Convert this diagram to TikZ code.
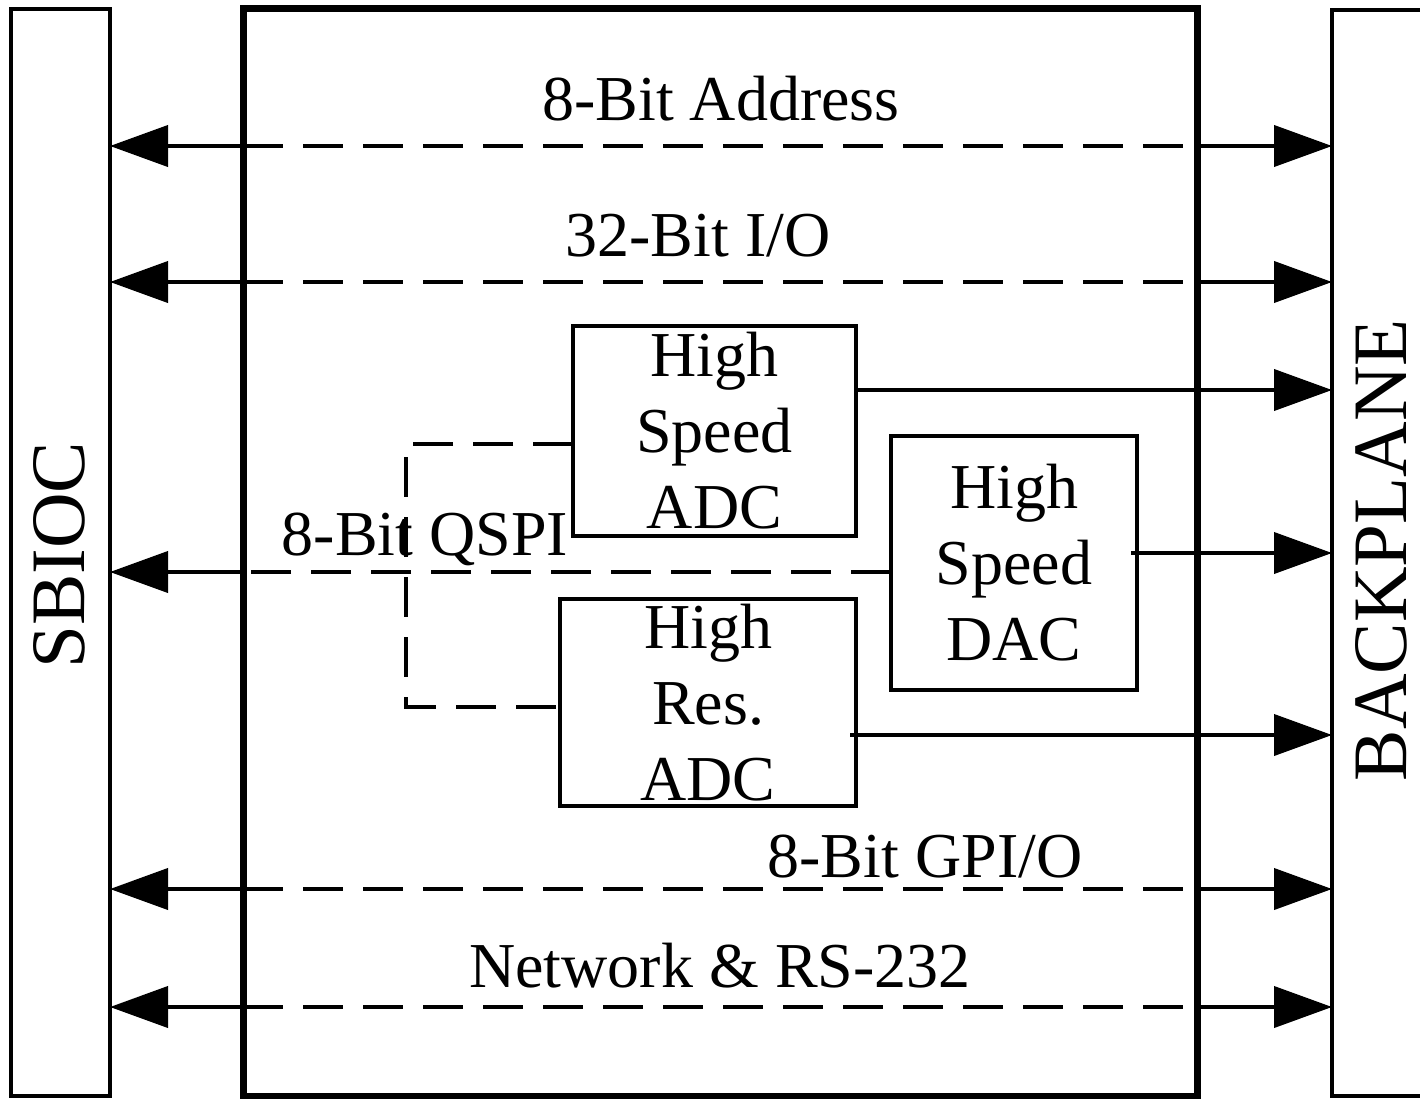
\documentclass[tikz,border=0pt]{standalone}
\usepackage{fontspec}
\setmainfont{Liberation Serif}
\usetikzlibrary{arrows.meta}
\begin{document}
\begin{tikzpicture}[x=1pt,y=-1pt,
  box/.style={draw,line width=4pt,inner sep=0pt,outer sep=0pt,align=center,
    font=\fontsize{64}{76}\selectfont},
  lbl/.style={inner sep=0pt,anchor=base,font=\fontsize{64}{76}\selectfont},
  side/.style={rotate=90,inner sep=0pt,font=\fontsize{77}{90}\selectfont},
  arr/.style={line width=4pt,-{Triangle[length=58pt,width=41pt]}},
  dsh/.style={line width=4pt,dash pattern=on 40pt off 20pt}]
\useasboundingbox (0,0) rectangle (1420,1098);
\clip (0,0) rectangle (1420,1098);
\fill[white] (0,0) rectangle (1420,1098);
% outer boxes
\node[draw,line width=4pt,minimum width=99pt,minimum height=1087pt,inner sep=0pt,outer sep=0pt] (sbioc) at (60.5,552.5) {};
\node[draw,line width=4pt,minimum width=168pt,minimum height=1086pt,inner sep=0pt,outer sep=0pt] (bp) at (1416,553) {};
\node[draw,line width=7pt,minimum width=954pt,minimum height=1088pt,inner sep=0pt,outer sep=0pt] (core) at (720,552) {};
\node[side] (sbiocT) at (59,555) {SBIOC};
\node[side] (bpT) at (1381,550) {BACKPLANE};
% inner blocks
\node[box,minimum width=283pt,minimum height=210pt] (hsadc) at (714.5,431) {High\\Speed\\ADC};
\node[box,minimum width=246pt,minimum height=254pt] (dac) at (1014,563) {High\\Speed\\DAC};
\node[box,minimum width=296pt,minimum height=207pt] (hradc) at (708,702.5) {High\\Res.\\ADC};
% labels
\node[lbl] (laddr) at (721,120) {8-Bit Address};
\node[lbl] (lio) at (698,256) {32-Bit I/O};
\node[lbl] (lqspi) at (425,555) {8-Bit QSPI};
\node[lbl] (lgpio) at (925,877) {8-Bit GPI/O};
\node[lbl] (lnet) at (720,987) {Network \& RS-232};
% bidirectional buses
\foreach \yy in {146,282,889,1007}{
  \draw[dsh] (core.west |- 0,\yy) -- (core.east |- 0,\yy);
  \draw[arr] (core.west |- 0,\yy) -- (sbioc.east |- 0,\yy);
  \draw[arr] (core.east |- 0,\yy) -- (bp.west |- 0,\yy);
}
% QSPI
\draw[dsh] (dac.west |- 0,572) -- (core.west |- 0,572);
\draw[arr] (core.west |- 0,572) -- (sbioc.east |- 0,572);
\coordinate (qa) at (406,444);
\coordinate (qb) at (406,707);
\draw[dsh] (hsadc.west |- qa) -- (qa) -- (qb) -- (hradc.west |- qb);
% converter outputs
\draw[arr] (hsadc.east |- 0,390) -- (bp.west |- 0,390);
\draw[arr] ([xshift=-6pt]dac.east |- 0,553) -- (bp.west |- 0,553);
\draw[arr] ([xshift=-6pt]hradc.east |- 0,735) -- (bp.west |- 0,735);
\end{tikzpicture}
\end{document}
